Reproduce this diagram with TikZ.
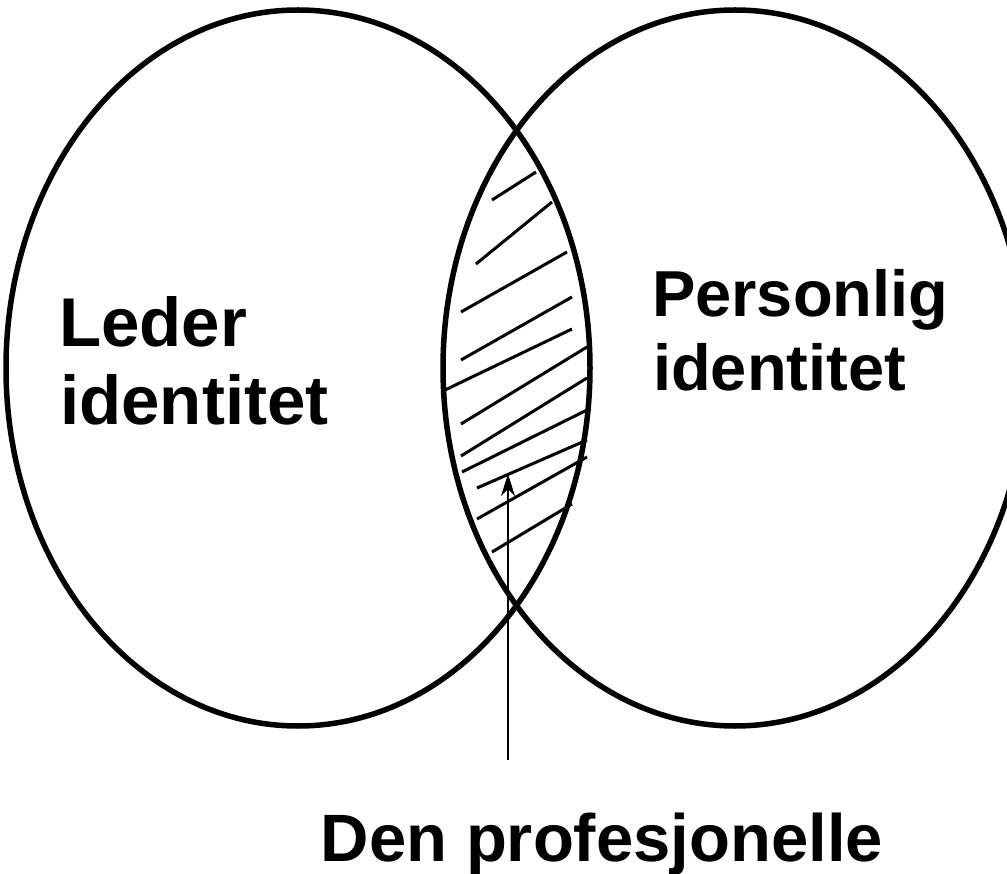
\documentclass[tikz,border=0pt]{standalone}
\usepackage{fontspec}
\setmainfont{Liberation Sans}
\usetikzlibrary{arrows.meta}

\tikzset{
  oval/.style={line width=5.5pt},
  hatchline/.style={line width=3pt},
  venntext/.style={inner sep=0pt,anchor=base west,font=\fontsize{67}{77}\selectfont\bfseries}
}

\begin{document}
\begin{tikzpicture}[x=1pt,y=-1pt]
        \useasboundingbox (0,0) rectangle (1007,874);
        \coordinate(L) at (298,368);
        \coordinate(R) at (735,368);
        \coordinate(foot) at (508,760);
        \coordinate(tip) at (508,474);
        \draw[oval] (L) ellipse [x radius=292, y radius=358];
        \draw[oval] (R) ellipse [x radius=292, y radius=358];
        % hatching of the overlap
        \foreach \xa/\ya/\xb/\yb in {492/200/536/172, 476/264/552/202, 461/312/567/252,
            461/360/572/297, 445/390/572/329, 461/424/587/347, 461/456/587/378,
            462/472/587/410, 477/488/587/440, 477/519/587/457, 492/552/572/504}
            \draw[hatchline] (\xa,\ya) -- (\xb,\yb);
        \draw[line width=2.5pt,-{Stealth[length=22pt,width=14pt,inset=7pt]}] (foot) -- (tip);
        \node[venntext,font=\fontsize{69}{79}\selectfont\bfseries] (leder) at (59,347) {Leder};
        \node[venntext,font=\fontsize{69}{79}\selectfont\bfseries] (lederid) at (60,425) {identitet};
        \node[venntext,font=\fontsize{65}{75}\selectfont\bfseries] (person) at (652,317) {Personlig};
        \node[venntext,font=\fontsize{65}{75}\selectfont\bfseries] (personid) at (653,391) {identitet};
        \node[venntext,anchor=base] (prof) at (602,861) {Den profesjonelle};
    \end{tikzpicture}
\end{document}
